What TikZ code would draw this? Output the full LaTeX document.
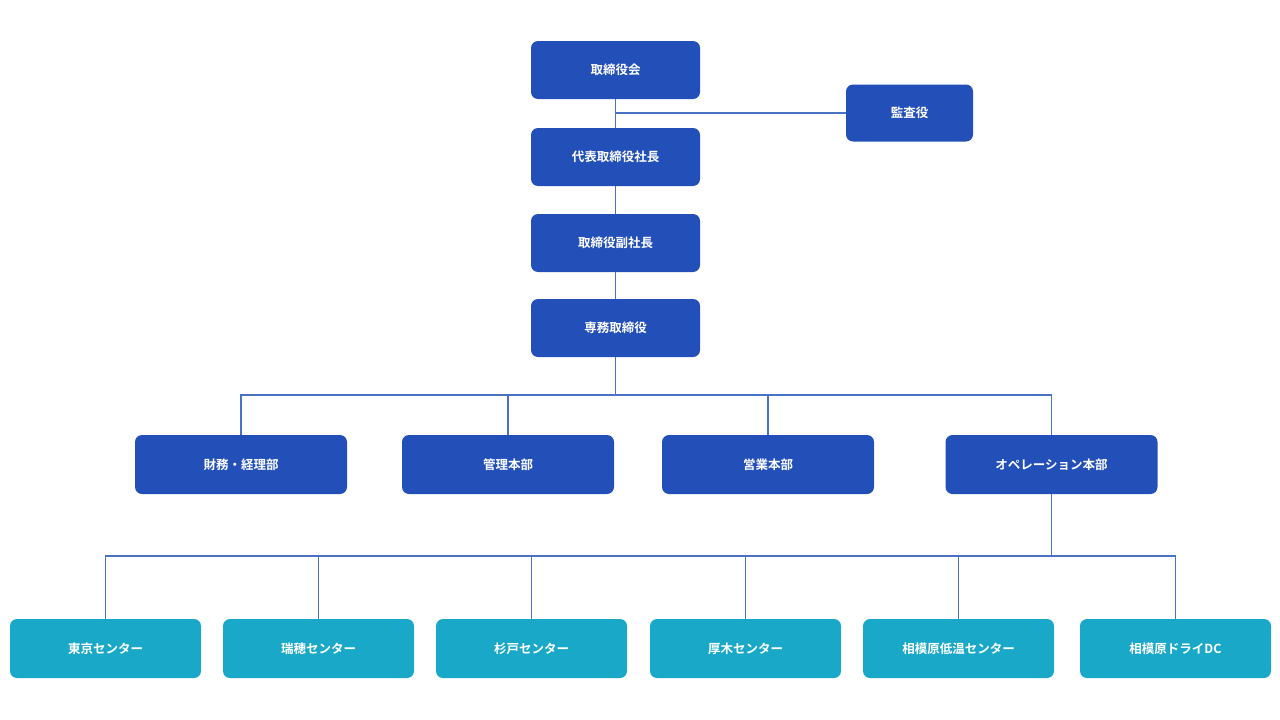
\documentclass[tikz,border=0pt]{standalone}
\usepackage{fontspec}
\newfontfamily\cjk{Noto Sans CJK JP}[BoldFont={Noto Sans CJK JP Bold}]
\definecolor{dblue}{HTML}{2350B8}
\definecolor{cyanb}{HTML}{1AA8C9}
\definecolor{lineb}{HTML}{4A72C4}
\begin{document}
\begin{tikzpicture}[x=1pt,y=-1pt,
  box/.style={draw=none,rounded corners=7pt,text=white,font=\cjk\bfseries\fontsize{12.5}{14}\selectfont,inner sep=0pt},
  top/.style={box,fill=dblue,minimum width=169pt,minimum height=58pt},
  dept/.style={box,fill=dblue,minimum width=212pt,minimum height=59pt},
  ctr/.style={box,fill=cyanb,minimum width=191pt,minimum height=59pt},
  ln/.style={draw=lineb,line width=1.6pt}]
\useasboundingbox (0,0) rectangle (1280,720);
\node[top] (a) at (615.5,70) {取締役会};
\node[box,fill=dblue,minimum width=127pt,minimum height=57pt] (k) at (909.5,113) {監査役};
\node[top] (b) at (615.5,157) {代表取締役社長};
\node[top] (c) at (615.5,243) {取締役副社長};
\node[top] (d) at (615.5,328) {専務取締役};
\node[dept] (e1) at (241,464.5) {財務・経理部};
\node[dept] (e2) at (508,464.5) {管理本部};
\node[dept] (e3) at (768,464.5) {営業本部};
\node[dept] (e4) at (1051.5,464.5) {オペレーション本部};
\node[ctr] (f1) at (105.5,648.5) {東京センター};
\node[ctr] (f2) at (318.5,648.5) {瑞穂センター};
\node[ctr] (f3) at (531.5,648.5) {杉戸センター};
\node[ctr] (f4) at (745.5,648.5) {厚木センター};
\node[ctr] (f5) at (958.5,648.5) {相模原低温センター};
\node[ctr] (f6) at (1175.5,648.5) {相模原ドライDC};
\coordinate (kj) at (615.5,113);
\draw[ln] (a) -- (b);
\draw[ln] (kj) -- (k);
\draw[ln] (b) -- (c);
\draw[ln] (c) -- (d);
\coordinate (bus1) at (615.5,395);
\draw[ln] (d) -- (bus1);
\foreach \n in {e1,e2,e3,e4} \draw[ln] (bus1) -| (\n);
\coordinate (bus2) at (1051.5,556);
\draw[ln] (e4) -- (bus2);
\foreach \n in {f1,f2,f3,f4,f5,f6} \draw[ln] (bus2) -| (\n);
\end{tikzpicture}
\end{document}
